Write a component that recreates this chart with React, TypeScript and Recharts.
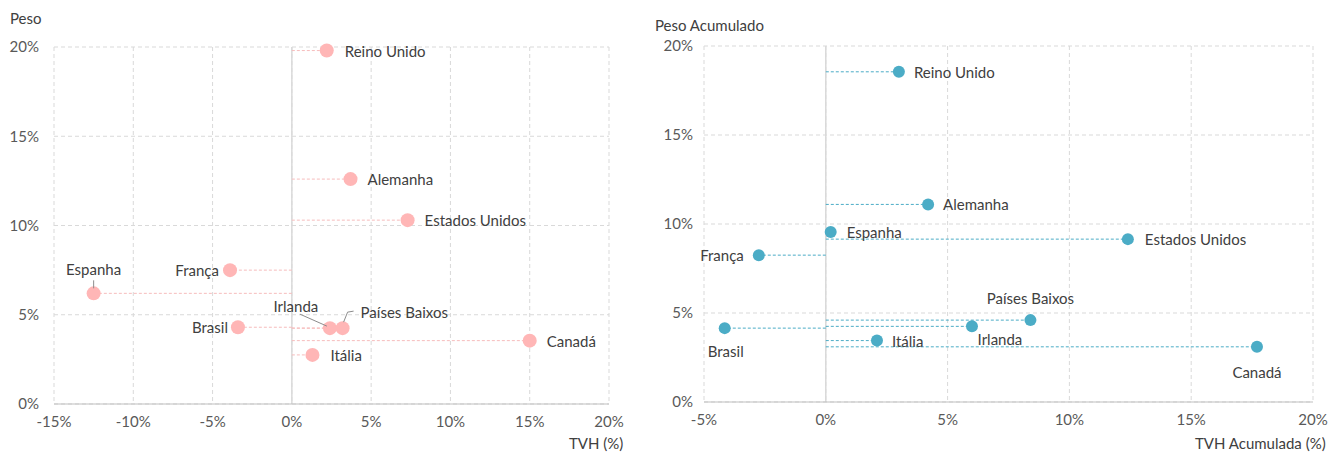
import { CartesianGrid, ReferenceLine, Scatter, ScatterChart, XAxis, YAxis } from "recharts";

const countries = ["Reino Unido", "Alemanha", "Estados Unidos", "França", "Espanha", "Brasil", "Irlanda", "Países Baixos", "Canadá", "Itália"];
const tvh = [2.2, 3.7, 7.3, -3.9, -12.5, -3.4, 2.4, 3.2, 15.0, 1.3];
const peso = [19.8, 12.6, 10.3, 7.5, 6.2, 4.3, 4.25, 4.25, 3.55, 2.75];
const tvhAcum = [3.0, 4.2, 12.4, -2.75, 0.2, -4.15, 6.0, 8.4, 17.7, 2.1];
const pesoAcum = [18.55, 11.1, 9.15, 8.25, 9.55, 4.15, 4.25, 4.6, 3.1, 3.45];

const xTicksLeft = [-15, -10, -5, 0, 5, 10, 15, 20];
const xTicksRight = [-5, 0, 5, 10, 15, 20];
const yTicks = [0, 5, 10, 15, 20];

const FONT = "Lato, 'Open Sans', sans-serif";
const pct = (v: number) => `${v}%`;

type Place = { dx: number; dy: number; anchor: "start" | "middle" | "end"; leader?: number[][] };

const leftPlaces: Record<string, Place> = {
  "Reino Unido": { dx: 18, dy: 0, anchor: "start" },
  Alemanha: { dx: 17, dy: 0, anchor: "start" },
  "Estados Unidos": { dx: 17, dy: 0, anchor: "start" },
  França: { dx: -11, dy: 0, anchor: "end" },
  Espanha: { dx: 0, dy: -24, anchor: "middle", leader: [[0, -13], [0, -5]] },
  Brasil: { dx: -10, dy: 0, anchor: "end" },
  Irlanda: { dx: -34, dy: -22, anchor: "middle", leader: [[-30, -14], [-3, -2]] },
  "Países Baixos": { dx: 18, dy: -16, anchor: "start", leader: [[1, -6], [5, -16], [11, -17]] },
  Canadá: { dx: 17, dy: 0, anchor: "start" },
  Itália: { dx: 18, dy: 0, anchor: "start" },
};

const rightPlaces: Record<string, Place> = {
  "Reino Unido": { dx: 15, dy: 0, anchor: "start" },
  Alemanha: { dx: 15, dy: 0, anchor: "start" },
  "Estados Unidos": { dx: 17, dy: 0, anchor: "start" },
  França: { dx: -15, dy: 0, anchor: "end" },
  Espanha: { dx: 16, dy: 0, anchor: "start" },
  Brasil: { dx: 1, dy: 23, anchor: "middle" },
  Irlanda: { dx: 28, dy: 13, anchor: "middle" },
  "Países Baixos": { dx: 0, dy: -22, anchor: "middle" },
  Canadá: { dx: 0, dy: 25, anchor: "middle" },
  Itália: { dx: 15, dy: 0, anchor: "start" },
};

const leftData = countries.map((name, i) => ({ name, x: tvh[i], y: peso[i] }));
const rightData = countries.map((name, i) => ({ name, x: tvhAcum[i], y: pesoAcum[i] }));

function makeShape(places: Record<string, Place>, color: string, r: number) {
  return (props: any) => {
    const { cx, cy, payload } = props;
    const p = places[payload.name];
    return (
      <g>
        <circle cx={cx} cy={cy} r={r} fill={color} />
        {p.leader && (
          <polyline
            points={p.leader.map(([a, b]) => `${cx + a},${cy + b}`).join(" ")}
            fill="none"
            stroke="#8c8c8c"
            strokeWidth={1}
          />
        )}
        <text
          x={cx + p.dx}
          y={cy + p.dy}
          textAnchor={p.anchor}
          dominantBaseline="central"
          fontSize={15}
          fontFamily={FONT}
          fill="#404040"
        >
          {payload.name}
        </text>
      </g>
    );
  };
}

const tickStyle = { fontSize: 15, fontFamily: FONT, fill: "#595959" };

const titleStyle: React.CSSProperties = {
  position: "absolute",
  fontSize: 15,
  fontFamily: FONT,
  color: "#404040",
  whiteSpace: "nowrap",
  lineHeight: "18px",
};

export default function App() {
  return (
    <div style={{ position: "absolute", left: 0, top: 0, width: 1329, height: 452, background: "#fff", overflow: "hidden" }}>
      <div style={{ position: "absolute", left: 0, top: 0 }}>
        <ScatterChart width={660} height={452} margin={{ top: 47, right: 51, bottom: 18, left: 0 }}>
          <CartesianGrid strokeDasharray="4 3" stroke="#d9d9d9" />
          <XAxis
            type="number"
            dataKey="x"
            domain={[-15, 20]}
            ticks={xTicksLeft}
            tickFormatter={pct}
            tick={tickStyle}
            tickLine={false}
            axisLine={{ stroke: "#bfbfbf" }}
            tickMargin={6}
            height={30}
          />
          <YAxis
            type="number"
            dataKey="y"
            domain={[0, 20]}
            ticks={yTicks}
            tickFormatter={pct}
            tick={tickStyle}
            tickLine={false}
            axisLine={false}
            tickMargin={9}
            width={54}
          />
          <ReferenceLine x={0} stroke="#d9d9d9" strokeWidth={1.5} />
          {leftData.map((d) => (
            <ReferenceLine
              key={d.name}
              segment={[{ x: 0, y: d.y }, { x: d.x, y: d.y }]}
              stroke="#f6bcbc"
              strokeDasharray="3 2"
            />
          ))}
          <Scatter data={leftData} isAnimationActive={false} shape={makeShape(leftPlaces, "#ffb6b6", 7)} />
        </ScatterChart>
      </div>
      <div style={{ position: "absolute", left: 660, top: 0 }}>
        <ScatterChart width={669} height={452} margin={{ top: 46, right: 16, bottom: 20, left: 0 }}>
          <CartesianGrid strokeDasharray="4 3" stroke="#d9d9d9" />
          <XAxis
            type="number"
            dataKey="x"
            domain={[-5, 20]}
            ticks={xTicksRight}
            tickFormatter={pct}
            tick={tickStyle}
            tickLine={false}
            axisLine={{ stroke: "#bfbfbf" }}
            tickMargin={6}
            height={30}
          />
          <YAxis
            type="number"
            dataKey="y"
            domain={[0, 20]}
            ticks={yTicks}
            tickFormatter={pct}
            tick={tickStyle}
            tickLine={false}
            axisLine={false}
            tickMargin={5}
            width={44}
          />
          <ReferenceLine x={0} stroke="#d9d9d9" strokeWidth={1.5} />
          {rightData.map((d) => (
            <ReferenceLine
              key={d.name}
              segment={[{ x: 0, y: d.y }, { x: d.x, y: d.y }]}
              stroke="#4bacc6"
              strokeDasharray="3 2"
            />
          ))}
          <Scatter data={rightData} isAnimationActive={false} shape={makeShape(rightPlaces, "#4bacc6", 6)} />
        </ScatterChart>
      </div>
      <div style={{ ...titleStyle, left: 10, top: 9 }}>Peso</div>
      <div style={{ ...titleStyle, left: 569, top: 434 }}>TVH (%)</div>
      <div style={{ ...titleStyle, left: 655, top: 16 }}>Peso Acumulado</div>
      <div style={{ ...titleStyle, left: 1195, top: 434 }}>TVH Acumulada (%)</div>
    </div>
  );
}
